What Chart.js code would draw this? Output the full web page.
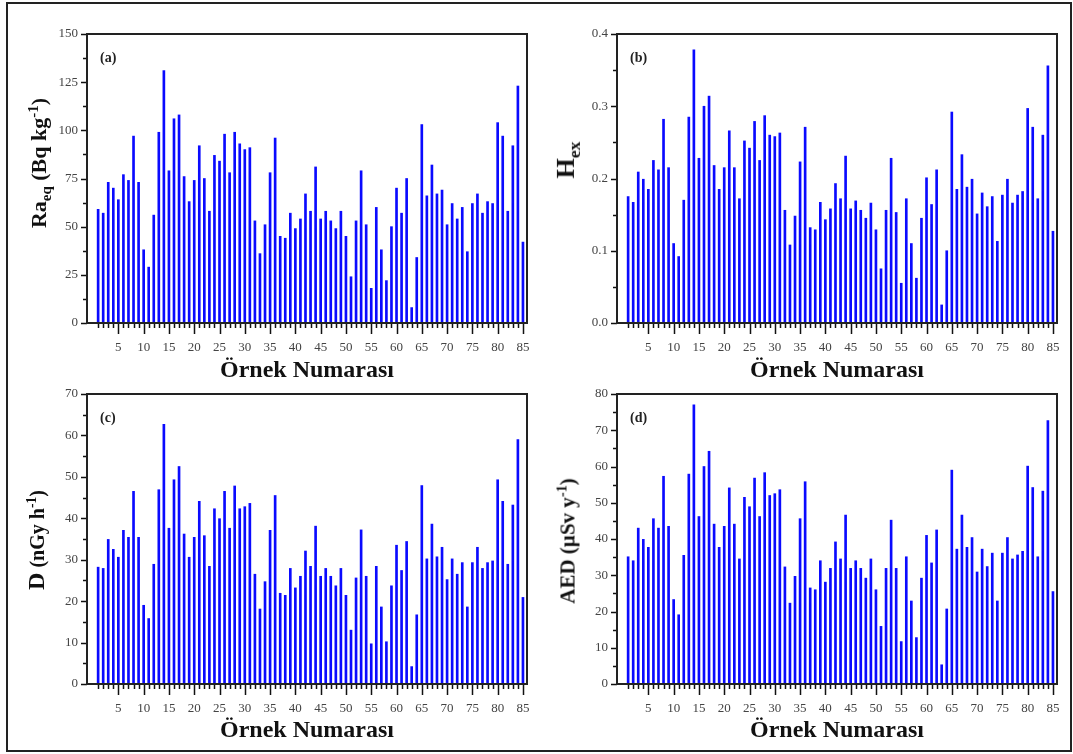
<!DOCTYPE html>
<html>
<head>
<meta charset="utf-8">
<script src="https://cdn.jsdelivr.net/npm/chart.js@4"></script>
<style>
html, body { margin: 0; padding: 0; background: #fff; }
#page { position: relative; width: 1073px; height: 754px; overflow: hidden; }
#frame { position: absolute; left: 6px; top: 2px; width: 1062px; height: 746px; border: 2px solid #222; }
canvas { position: absolute; }
.ytitle { position: absolute; font-family: "Liberation Serif", serif; font-weight: bold; color: #111;
  white-space: nowrap; transform: translate(-50%, -50%) rotate(-90deg); }
.ytitle sub, .ytitle sup { font-size: 68%; }
</style>
</head>
<body>
<div id="page">
  <div id="frame"></div>
  <canvas id="ca" width="530" height="365" style="left:10px;top:20px"></canvas>
  <canvas id="cb" width="530" height="365" style="left:540px;top:20px"></canvas>
  <canvas id="cc" width="530" height="365" style="left:10px;top:380px"></canvas>
  <canvas id="cd" width="530" height="365" style="left:540px;top:380px"></canvas>
  <div class="ytitle" style="left:40px;top:163px;font-size:22px">Ra<sub>eq</sub> (Bq kg<sup>-1</sup>)</div>
  <div class="ytitle" style="left:568px;top:160px;font-size:26px">H<sub>ex</sub></div>
  <div class="ytitle" style="left:36px;top:540px;font-size:20px"><span style="font-size:24px">D</span> (nGy h<sup>-1</sup>)</div>
  <div class="ytitle" style="left:567px;top:541px;font-size:21px">AED (µSv y<sup>-1</sup>)</div>
</div>
<script>
// sample numbers 1..85
const sampleNo = Array.from({ length: 85 }, (_, i) => i + 1);

const raeq = [59, 57, 73, 70, 64, 77, 74, 97, 73, 38, 29, 56, 99, 131, 79, 106, 108, 76, 63, 74,
  92, 75, 58, 87, 84, 98, 78, 99, 93, 90, 91, 53, 36, 51, 78, 96, 45, 44, 57, 49,
  54, 67, 58, 81, 54, 58, 53, 49, 58, 45, 24, 53, 79, 51, 18, 60, 38, 22, 50, 70,
  57, 75, 8, 34, 103, 66, 82, 67, 69, 51, 62, 54, 60, 37, 62, 67, 57, 63, 62, 104,
  97, 58, 92, 123, 42];

const hex = [0.175, 0.167, 0.209, 0.199, 0.185, 0.225, 0.212, 0.282, 0.215, 0.110, 0.092, 0.170, 0.285, 0.378, 0.228, 0.300, 0.314, 0.218, 0.185, 0.215,
  0.266, 0.215, 0.172, 0.252, 0.242, 0.279, 0.225, 0.287, 0.260, 0.258, 0.263, 0.156, 0.108, 0.148, 0.223, 0.271, 0.132, 0.129, 0.167, 0.143,
  0.158, 0.193, 0.172, 0.231, 0.158, 0.169, 0.156, 0.145, 0.166, 0.129, 0.075, 0.156, 0.228, 0.153, 0.055, 0.172, 0.110, 0.062, 0.145, 0.201,
  0.164, 0.212, 0.025, 0.100, 0.292, 0.185, 0.233, 0.188, 0.199, 0.151, 0.180, 0.161, 0.175, 0.113, 0.177, 0.199, 0.166, 0.177, 0.182, 0.297,
  0.271, 0.172, 0.260, 0.356, 0.127];

const dose = [28.2, 27.9, 34.9, 32.5, 30.6, 37.1, 35.4, 46.5, 35.4, 19.0, 15.8, 28.9, 46.9, 62.7, 37.6, 49.3, 52.5, 36.2, 30.6, 35.4,
  44.1, 35.8, 28.4, 42.3, 39.9, 46.5, 37.6, 47.8, 42.3, 42.8, 43.6, 26.5, 18.1, 24.7, 37.1, 45.5, 21.9, 21.4, 27.9, 23.2,
  26.0, 32.1, 28.4, 38.1, 26.0, 27.9, 26.0, 23.7, 27.9, 21.4, 13.0, 25.6, 37.2, 26.0, 9.7, 28.4, 18.6, 10.2, 23.7, 33.5,
  27.4, 34.4, 4.2, 16.7, 47.9, 30.2, 38.6, 30.7, 33.0, 25.2, 30.2, 26.5, 29.3, 18.6, 29.3, 33.0, 27.9, 29.3, 29.7, 49.3,
  44.1, 28.9, 43.2, 59.0, 20.9];

const aed = [35.1, 34.0, 43.0, 39.9, 37.7, 45.6, 43.0, 57.3, 43.5, 23.3, 19.1, 35.5, 57.9, 77.0, 46.2, 60.0, 64.2, 44.1, 37.7, 43.5,
  54.1, 44.1, 34.5, 51.5, 48.9, 56.8, 46.2, 58.3, 52.0, 52.5, 53.6, 32.3, 22.3, 29.7, 45.6, 55.8, 26.5, 26.0, 34.0, 28.1,
  31.9, 39.2, 34.5, 46.6, 31.9, 34.0, 31.9, 29.2, 34.5, 26.0, 15.9, 31.9, 45.2, 31.9, 11.7, 35.1, 22.9, 12.8, 29.2, 41.0,
  33.4, 42.5, 5.3, 20.7, 59.0, 37.2, 46.6, 37.7, 40.4, 30.9, 37.2, 32.4, 36.1, 22.9, 36.1, 40.4, 34.5, 35.6, 36.6, 60.1,
  54.2, 35.1, 53.2, 72.7, 25.5];

const FONT = '"Liberation Serif", "Times New Roman", serif';

// ticks outside the axes, the box around the plot and the (a)..(d) tag
const decor = {
  id: 'decor',
  afterDraw(chart, args, opts) {
    const { ctx, chartArea: a, scales: { x, y } } = chart;
    ctx.save();
    ctx.strokeStyle = '#111';
    ctx.lineWidth = 1.5;
    ctx.beginPath();
    sampleNo.forEach(n => {
      const px = Math.round(x.getPixelForValue(n)) + 0.5;
      ctx.moveTo(px, a.bottom);
      ctx.lineTo(px, a.bottom + (n % 5 === 0 ? 11 : 5));
    });
    for (let k = 0; k * opts.minor <= opts.max + 1e-9; k++) {
      const py = Math.round(y.getPixelForValue(k * opts.minor)) + 0.5;
      ctx.moveTo(a.left, py);
      ctx.lineTo(a.left - (k % 2 === 0 ? 6 : 4), py);
    }
    ctx.stroke();
    ctx.lineWidth = 2;
    ctx.strokeStyle = '#222';
    ctx.strokeRect(a.left, a.top, a.right - a.left, a.bottom - a.top);
    ctx.font = 'bold 14px ' + FONT;
    ctx.fillStyle = '#222';
    ctx.fillText(opts.tag, a.left + 13, a.top + 28);
    ctx.restore();
  }
};

function makePanel(id, values, tag, yMax, yStep, decimals, xAxisH) {
  new Chart(document.getElementById(id), {
    type: 'bar',
    data: {
      labels: sampleNo,
      datasets: [{
        data: sampleNo.map((n, i) => ({ x: n, y: values[i] })),
        backgroundColor: '#0a0aff',
        borderWidth: 0,
        barThickness: 2
      }]
    },
    options: {
      responsive: false,
      devicePixelRatio: 1,
      animation: false,
      layout: { padding: { top: 14, right: 13, left: 0, bottom: 0 } },
      plugins: { legend: { display: false }, tooltip: { enabled: false }, decor: { tag, max: yMax, minor: yStep / 2 } },
      scales: {
        x: {
          type: 'linear',
          min: -1.2,
          max: 85.8,
          offset: false,
          grid: { display: false, drawTicks: true, tickLength: 16 },
          border: { display: true, color: '#111', width: 2 },
          ticks: {
            stepSize: 5,
            includeBounds: false,
            autoSkip: false,
            maxRotation: 0,
            padding: 1,
            color: '#444',
            font: { family: FONT, size: 13 },
            callback: v => (v > 0 && v % 5 === 0 ? String(v) : '')
          },
          title: {
            display: true,
            text: 'Örnek Numarası',
            color: '#111',
            padding: 0,
            font: { family: FONT, size: 24, weight: 'bold' }
          },
          afterFit: s => { s.height = xAxisH; }
        },
        y: {
          min: 0,
          max: yMax,
          grid: { display: false, drawTicks: true, tickLength: 8 },
          border: { display: true, color: '#111', width: 2 },
          ticks: {
            stepSize: yStep,
            padding: 1,
            color: '#444',
            font: { family: FONT, size: 13 },
            callback: v => v.toFixed(decimals)
          },
          afterFit: s => { s.width = 77; }
        }
      }
    },
    plugins: [decor]
  });
}

makePanel('ca', raeq, '(a)', 150, 25, 0, 62);
makePanel('cb', hex, '(b)', 0.4, 0.1, 1, 62);
makePanel('cc', dose, '(c)', 70, 10, 0, 61);
makePanel('cd', aed, '(d)', 80, 10, 0, 61);
</script>
</body>
</html>
